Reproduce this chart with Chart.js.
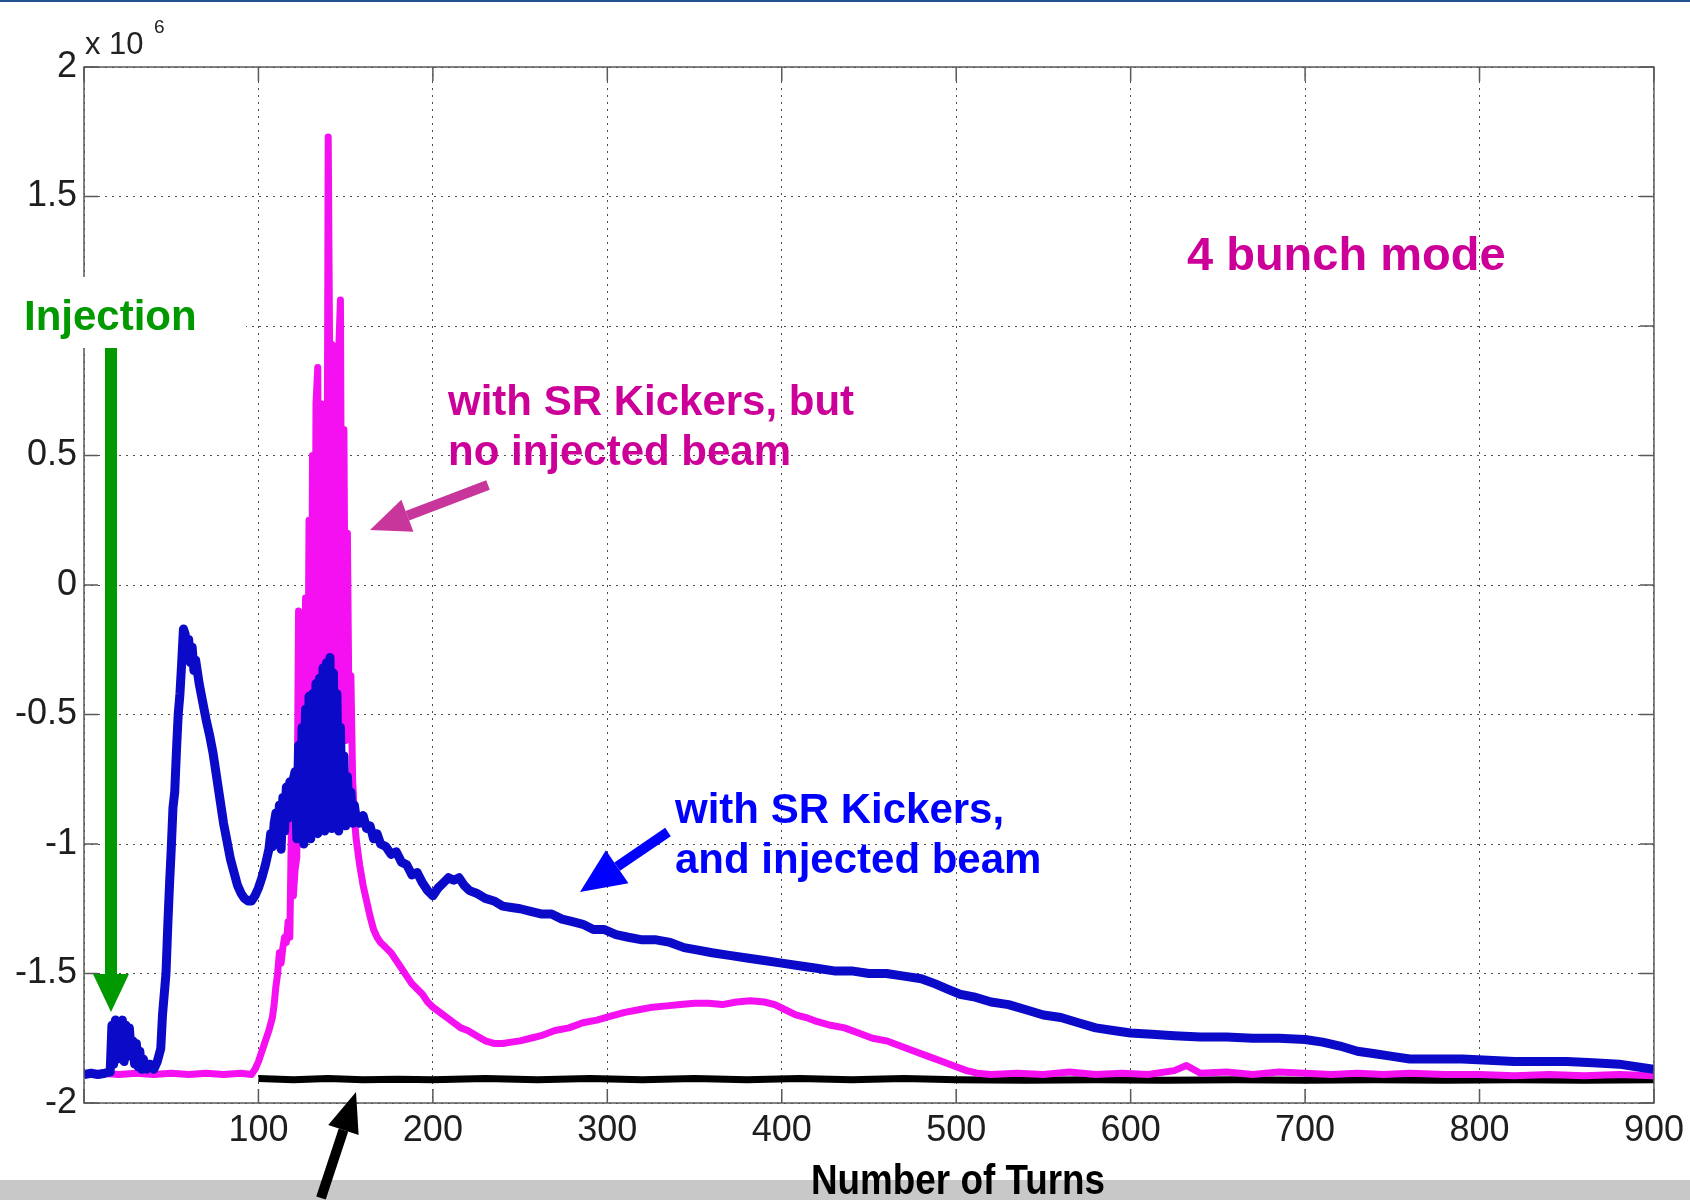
<!DOCTYPE html>
<html>
<head>
<meta charset="utf-8">
<title>4 bunch mode</title>
<script src="https://cdn.jsdelivr.net/npm/chart.js@4.4.0/dist/chart.umd.min.js"></script>
<style>
    html, body { margin: 0; padding: 0; background: #fff; }
    canvas { display: block; }
</style>
</head>
<body>
<canvas id="turnsChart" width="1690" height="1200"></canvas>
<script>
/* Signal vs number of turns, 4 bunch mode */

// Axis ticks (values in units of 1e6)
const xTicks = [0, 100, 200, 300, 400, 500, 600, 700, 800, 900];
const yTicks = [-2, -1.5, -1, -0.5, 0, 0.5, 1, 1.5, 2];

// With SR kickers and injected beam (blue)
const blueTurns = [0, 4, 8, 12, 15, 16, 17, 18, 19, 20, 21, 22, 23, 24, 25, 26, 27, 28, 29, 30,
    31, 32, 33, 34, 36, 38, 40, 42, 44, 45, 46, 47, 48, 49, 50, 51, 52, 53, 54, 55,
    56, 57, 58, 59, 60, 61, 62, 63, 64, 66, 68, 70, 72, 74, 76, 78, 80, 82, 84, 86,
    88, 90, 92, 94, 96, 98, 100, 102, 104, 106, 107, 108, 109, 110, 111, 112, 113, 114, 115, 116,
    117, 118, 119, 120, 121, 122, 123, 124, 125, 126, 127, 128, 129, 130, 131, 132, 133, 134, 135, 136,
    137, 138, 139, 140, 141, 142, 143, 144, 145, 146, 147, 148, 149, 150, 151, 152, 153, 154, 155, 156,
    158, 160, 162, 164, 166, 168, 170, 173, 176, 179, 182, 185, 188, 191, 194, 197, 200, 203, 206, 209,
    212, 215, 218, 221, 225, 230, 235, 240, 245, 250, 256, 262, 268, 274, 280, 286, 292, 298, 305, 312,
    320, 328, 336, 344, 352, 360, 370, 380, 390, 400, 410, 420, 430, 440, 450, 460, 470, 480, 488, 495,
    502, 510, 520, 530, 540, 550, 560, 570, 580, 590, 600, 612, 625, 640, 655, 670, 685, 700, 710, 720,
    730, 740, 750, 760, 775, 790, 805, 820, 835, 850, 865, 880, 890, 900];
const blueValues = [-1.89, -1.885, -1.89, -1.885, -1.88, -1.70, -1.85, -1.68, -1.83, -1.69, -1.80, -1.68, -1.84, -1.70, -1.82, -1.71, -1.80, -1.76, -1.85, -1.77,
    -1.86, -1.80, -1.87, -1.83, -1.87, -1.85, -1.87, -1.84, -1.79, -1.66, -1.58, -1.50, -1.32, -1.16, -1.02, -0.86, -0.80, -0.64, -0.50, -0.42,
    -0.30, -0.17, -0.19, -0.27, -0.21, -0.30, -0.24, -0.33, -0.29, -0.38, -0.45, -0.52, -0.58, -0.65, -0.74, -0.83, -0.92, -0.99, -1.06, -1.11,
    -1.16, -1.19, -1.21, -1.22, -1.22, -1.20, -1.17, -1.13, -1.08, -1.02, -0.96, -1.01, -0.92, -0.88, -1.00, -0.85, -1.02, -0.82, -0.95, -0.78,
    -0.90, -0.76, -0.88, -0.75, -0.72, -0.98, -0.62, -0.96, -0.55, -1.00, -0.48, -0.95, -0.43, -0.98, -0.42, -0.93, -0.38, -0.96, -0.36, -0.92,
    -0.32, -0.95, -0.30, -0.90, -0.28, -0.94, -0.34, -0.92, -0.42, -0.95, -0.55, -0.90, -0.66, -0.93, -0.74, -0.90, -0.80, -0.92, -0.85, -0.90,
    -0.92, -0.89, -0.94, -0.93, -0.98, -0.96, -1.00, -1.01, -1.04, -1.03, -1.07, -1.08, -1.12, -1.11, -1.15, -1.18, -1.20, -1.17, -1.15, -1.13,
    -1.14, -1.13, -1.16, -1.18, -1.19, -1.21, -1.22, -1.24, -1.245, -1.25, -1.26, -1.27, -1.27, -1.29, -1.30, -1.31, -1.33, -1.33, -1.35, -1.36,
    -1.37, -1.37, -1.38, -1.40, -1.41, -1.42, -1.43, -1.44, -1.45, -1.46, -1.47, -1.48, -1.49, -1.49, -1.50, -1.50, -1.51, -1.52, -1.54, -1.56,
    -1.58, -1.59, -1.61, -1.62, -1.64, -1.66, -1.67, -1.69, -1.71, -1.72, -1.73, -1.735, -1.74, -1.745, -1.745, -1.75, -1.75, -1.755, -1.765, -1.78,
    -1.80, -1.81, -1.82, -1.83, -1.83, -1.83, -1.835, -1.84, -1.84, -1.84, -1.845, -1.85, -1.86, -1.87];

// With SR kickers but no injected beam (magenta)
const magentaTurns = [0, 10, 20, 30, 40, 50, 60, 70, 80, 90, 96, 98, 100, 102, 104, 106, 108, 109, 110, 111,
    112, 113, 114, 115, 116, 117, 118, 119, 120, 121, 122, 123, 124, 125, 126, 127, 128, 129, 130, 131,
    132, 133, 134, 135, 136, 137, 138, 139, 140, 141, 142, 143, 144, 145, 146, 147, 148, 149, 150, 151,
    152, 153, 154, 155, 156, 158, 160, 162, 164, 166, 168, 170, 173, 176, 179, 182, 185, 188, 191, 194,
    197, 200, 204, 208, 212, 216, 220, 225, 230, 235, 240, 245, 250, 256, 262, 270, 278, 286, 294, 302,
    310, 318, 326, 334, 342, 350, 358, 366, 374, 382, 390, 396, 402, 408, 414, 420, 428, 436, 444, 452,
    460, 468, 476, 484, 492, 500, 506, 512, 520, 535, 550, 565, 580, 595, 610, 625, 632, 640, 655, 670,
    685, 700, 715, 730, 745, 760, 780, 800, 820, 840, 860, 880, 900];
const magentaValues = [-1.89, -1.885, -1.89, -1.885, -1.89, -1.885, -1.89, -1.885, -1.89, -1.885, -1.89, -1.87, -1.84, -1.80, -1.76, -1.72, -1.67, -1.62, -1.55, -1.50,
    -1.42, -1.46, -1.40, -1.36, -1.38, -1.30, -1.36, -0.88, -1.20, -1.10, -1.05, -0.10, -1.00, -0.30, -0.96, -0.05, -0.90, 0.25, -0.92, 0.50,
    -0.80, 0.70, 0.84, -0.70, 0.70, -0.85, 0.68, -0.55, 1.73, 0.70, 0.93, -0.50, 0.92, -0.40, 0.90, 1.10, -0.55, 0.60, -0.60, 0.20,
    -0.58, -0.35, -0.75, -0.90, -0.98, -1.08, -1.16, -1.22, -1.28, -1.33, -1.36, -1.38, -1.40, -1.42, -1.45, -1.48, -1.51, -1.54, -1.56, -1.58,
    -1.61, -1.63, -1.65, -1.67, -1.69, -1.71, -1.72, -1.74, -1.76, -1.77, -1.77, -1.765, -1.76, -1.75, -1.74, -1.72, -1.71, -1.69, -1.68, -1.665,
    -1.65, -1.64, -1.63, -1.625, -1.62, -1.615, -1.615, -1.62, -1.61, -1.605, -1.61, -1.62, -1.64, -1.66, -1.67, -1.685, -1.70, -1.71, -1.73, -1.75,
    -1.76, -1.78, -1.80, -1.82, -1.84, -1.86, -1.875, -1.885, -1.89, -1.885, -1.89, -1.88, -1.89, -1.885, -1.89, -1.875, -1.855, -1.885, -1.88, -1.89,
    -1.88, -1.885, -1.89, -1.885, -1.89, -1.885, -1.89, -1.89, -1.895, -1.89, -1.895, -1.89, -1.895];

// Reference without kickers (black)
const blackTurns = [100, 120, 140, 160, 180, 200, 230, 260, 290, 320, 350, 380, 410, 440, 470, 500, 540, 580, 620, 660,
    700, 740, 780, 820, 860, 900];
const blackValues = [-1.905, -1.91, -1.905, -1.91, -1.908, -1.91, -1.905, -1.91, -1.905, -1.91, -1.905, -1.91, -1.905, -1.91, -1.905, -1.91, -1.912, -1.91, -1.912, -1.91,
    -1.912, -1.91, -1.912, -1.91, -1.912, -1.91];

const FONT = '"Liberation Sans", Arial, sans-serif';

function toPoints(turns, values) {
    return turns.map((t, i) => ({ x: t, y: values[i] }));
}

// Arrow with a straight shaft and a triangular head
function drawArrow(ctx, x1, y1, x2, y2, width, headLen, headWidth, color) {
    const angle = Math.atan2(y2 - y1, x2 - x1);
    const bx = x2 - headLen * Math.cos(angle);
    const by = y2 - headLen * Math.sin(angle);
    ctx.strokeStyle = color;
    ctx.fillStyle = color;
    ctx.lineWidth = width;
    ctx.lineCap = 'butt';
    ctx.beginPath();
    ctx.moveTo(x1, y1);
    ctx.lineTo(bx, by);
    ctx.stroke();
    const nx = -Math.sin(angle) * headWidth / 2;
    const ny = Math.cos(angle) * headWidth / 2;
    ctx.beginPath();
    ctx.moveTo(x2, y2);
    ctx.lineTo(bx + nx, by + ny);
    ctx.lineTo(bx - nx, by - ny);
    ctx.closePath();
    ctx.fill();
}

function drawText(ctx, text, x, y, font, color) {
    ctx.font = font;
    ctx.fillStyle = color;
    ctx.textAlign = 'left';
    ctx.textBaseline = 'alphabetic';
    ctx.fillText(text, x, y);
}

// Frame, inward ticks, slide decoration and annotations
const overlayPlugin = {
    id: 'overlay',
    afterDraw(chart) {
        const ctx = chart.ctx;
        const area = chart.chartArea;
        const xScale = chart.scales.x;
        const yScale = chart.scales.y;
        ctx.save();

        // Axes box
        ctx.strokeStyle = '#5a5a5a';
        ctx.lineWidth = 1.5;
        ctx.strokeRect(area.left, area.top, area.right - area.left, area.bottom - area.top);

        // Tick marks pointing inwards, on all four sides
        ctx.beginPath();
        xTicks.forEach(v => {
            const px = xScale.getPixelForValue(v);
            ctx.moveTo(px, area.bottom);
            ctx.lineTo(px, area.bottom - 14);
            ctx.moveTo(px, area.top);
            ctx.lineTo(px, area.top + 14);
        });
        yTicks.forEach(v => {
            const py = yScale.getPixelForValue(v);
            ctx.moveTo(area.left, py);
            ctx.lineTo(area.left + 14, py);
            ctx.moveTo(area.right, py);
            ctx.lineTo(area.right - 14, py);
        });
        ctx.stroke();

        // Exponent
        drawText(ctx, 'x 10', area.left + 1, 54, '31px ' + FONT, '#222');
        drawText(ctx, '6', area.left + 70, 33, '19px ' + FONT, '#222');

        // Slide strips
        ctx.fillStyle = '#24528f';
        ctx.fillRect(0, 0, 1690, 2);
        ctx.fillStyle = '#c8c8c8';
        ctx.fillRect(0, 1180, 1690, 20);

        // Axis title (condensed bold)
        ctx.font = 'bold 42px ' + FONT;
        const title = 'Number of Turns';
        const w = ctx.measureText(title).width;
        ctx.save();
        ctx.translate(958, 1194);
        ctx.scale(294 / w, 1);
        ctx.fillStyle = '#000';
        ctx.textAlign = 'center';
        ctx.fillText(title, 0, 0);
        ctx.restore();

        // Injection label and arrow
        ctx.fillStyle = '#fff';
        ctx.fillRect(0, 277, 246, 71);
        drawText(ctx, 'Injection', 24, 330, 'bold 42px ' + FONT, '#009900');
        drawArrow(ctx, 111, 348, 111, 1012, 12, 38, 36, '#009900');

        drawText(ctx, '4 bunch mode', 1187, 270, 'bold 47px ' + FONT, '#cc0099');

        drawText(ctx, 'with SR Kickers, but', 448, 415, 'bold 42px ' + FONT, '#cc0099');
        drawText(ctx, 'no injected beam', 448, 465, 'bold 42px ' + FONT, '#cc0099');
        drawArrow(ctx, 488, 485, 370, 530, 10, 40, 34, '#c8359b');

        drawText(ctx, 'with SR Kickers,', 675, 823, 'bold 42px ' + FONT, '#0000ff');
        drawText(ctx, 'and injected beam', 675, 873, 'bold 42px ' + FONT, '#0000ff');
        drawArrow(ctx, 668, 832, 580, 892, 10, 45, 40, '#0000ff');

        drawArrow(ctx, 321, 1198, 356, 1092, 10, 40, 32, '#000');

        ctx.restore();
    }
};

// Build chart
const ctx = document.getElementById('turnsChart').getContext('2d');

new Chart(ctx, {
    type: 'scatter',
    data: {
        datasets: [
            {
                label: 'with SR Kickers, and injected beam',
                data: toPoints(blueTurns, blueValues),
                borderColor: '#0a0ac8',
                borderWidth: 9,
            },
            {
                label: 'with SR Kickers, but no injected beam',
                data: toPoints(magentaTurns, magentaValues),
                borderColor: '#f410f0',
                borderWidth: 7,
            },
            {
                label: 'no kickers',
                data: toPoints(blackTurns, blackValues),
                borderColor: '#000',
                borderWidth: 7,
            }
        ].map(ds => Object.assign(ds, { showLine: true, pointRadius: 0, tension: 0, borderJoinStyle: 'round' }))
    },
    options: {
        responsive: false,
        animation: false,
        layout: {
            padding: { top: 67, right: 32, left: 0, bottom: 0 }
        },
        plugins: {
            legend: { display: false },
            tooltip: { enabled: false }
        },
        scales: {
            x: {
                type: 'linear',
                min: 0,
                max: 900,
                afterFit: (scale) => { scale.height = 97; },
                afterBuildTicks: (scale) => { scale.ticks = xTicks.map(v => ({ value: v })); },
                ticks: {
                    autoSkip: false,
                    maxRotation: 0,
                    padding: 6,
                    color: '#1e1e1e',
                    font: { family: FONT, size: 36 },
                    callback: (v) => (v === 0 ? '' : String(v))
                },
                grid: {
                    color: 'rgba(0, 0, 0, 0.7)',
                    lineWidth: 1,
                    drawTicks: false
                },
                border: { display: false, dash: [2, 5] }
            },
            y: {
                type: 'linear',
                min: -2,
                max: 2,
                afterFit: (scale) => { scale.width = 84; },
                afterBuildTicks: (scale) => { scale.ticks = yTicks.map(v => ({ value: v })); },
                ticks: {
                    autoSkip: false,
                    padding: 7,
                    color: '#1e1e1e',
                    font: { family: FONT, size: 36 },
                    callback: (v) => String(v)
                },
                grid: {
                    color: 'rgba(0, 0, 0, 0.7)',
                    lineWidth: 1,
                    drawTicks: false
                },
                border: { display: false, dash: [2, 5] }
            }
        }
    },
    plugins: [overlayPlugin]
});
</script>
</body>
</html>
